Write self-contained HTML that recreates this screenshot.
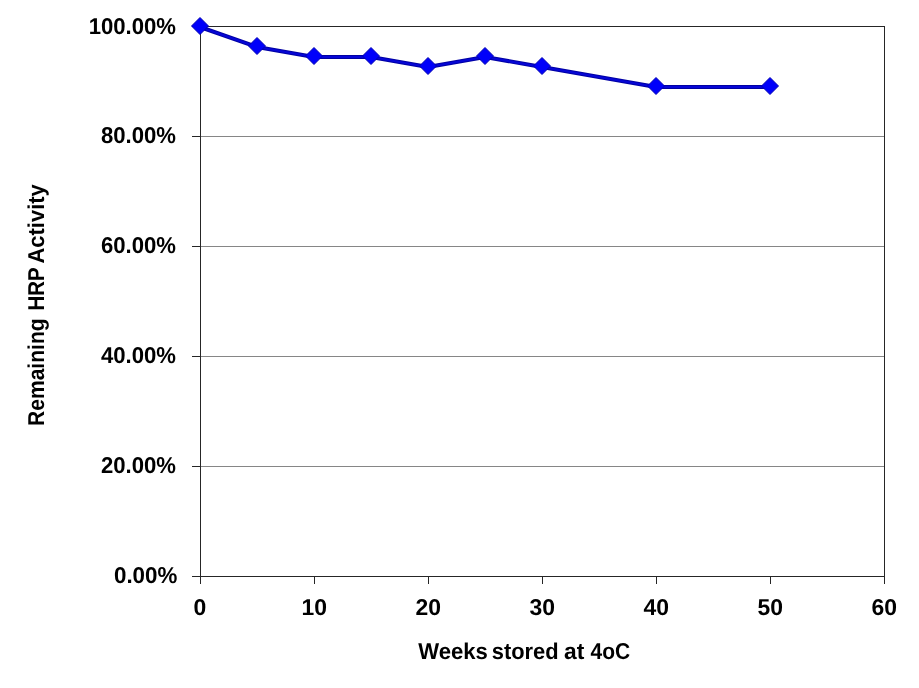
<!DOCTYPE html>
<html lang="en">
<head>
<meta charset="utf-8">
<title>Remaining HRP Activity vs Weeks stored at 4oC</title>
<style>
  html, body { margin: 0; padding: 0; background: #ffffff; }
  body { width: 919px; height: 688px; overflow: hidden; }
  svg { display: block; will-change: transform; }
  text { font-family: "Liberation Sans", sans-serif; font-weight: bold; text-rendering: geometricPrecision; font-size: 22.9px; fill: #000000; }
</style>
</head>
<body>
<svg width="919" height="688" viewBox="0 0 919 688">
  <rect x="0" y="0" width="919" height="688" fill="#ffffff"/>

  <!-- horizontal gridlines -->
  <g stroke="#868686" stroke-width="1" shape-rendering="crispEdges">
    <line x1="201" y1="136.5" x2="884" y2="136.5"/>
    <line x1="201" y1="246.5" x2="884" y2="246.5"/>
    <line x1="201" y1="356.5" x2="884" y2="356.5"/>
    <line x1="201" y1="466.5" x2="884" y2="466.5"/>
  </g>

  <!-- plot border and axes -->
  <g stroke="#262626" stroke-width="1" fill="none" shape-rendering="crispEdges">
    <rect x="200.5" y="26.5" width="684" height="550"/>
    <line x1="192" y1="26.5" x2="200" y2="26.5"/>
    <line x1="192" y1="136.5" x2="200" y2="136.5"/>
    <line x1="192" y1="246.5" x2="200" y2="246.5"/>
    <line x1="192" y1="356.5" x2="200" y2="356.5"/>
    <line x1="192" y1="466.5" x2="200" y2="466.5"/>
    <line x1="192" y1="576.5" x2="200" y2="576.5"/>
    <line x1="200.5" y1="577" x2="200.5" y2="584"/>
    <line x1="314.5" y1="577" x2="314.5" y2="584"/>
    <line x1="428.5" y1="577" x2="428.5" y2="584"/>
    <line x1="542.5" y1="577" x2="542.5" y2="584"/>
    <line x1="656.5" y1="577" x2="656.5" y2="584"/>
    <line x1="770.5" y1="577" x2="770.5" y2="584"/>
    <line x1="884.5" y1="577" x2="884.5" y2="584"/>
  </g>

  <!-- data series line -->
  <polyline fill="none" stroke="#0000a4" stroke-width="4" stroke-linejoin="round" stroke-linecap="round"
    points="200.0,27.0 257.0,47.0 314.0,57.0 371.0,57.0 428.0,67.0 485.0,57.0 542.0,67.0 656.0,87.0 770.0,87.0"/>
  <polyline fill="none" stroke="#0606d6" stroke-width="2.2" stroke-linejoin="round" stroke-linecap="round"
    points="200.0,27.0 257.0,47.0 314.0,57.0 371.0,57.0 428.0,67.0 485.0,57.0 542.0,67.0 656.0,87.0 770.0,87.0"/>

  <!-- diamond markers -->
  <g fill="#0000fa" stroke="#0000b4" stroke-width="1" stroke-linejoin="miter">
    <path d="M200 17.5 L208.5 26 L200 34.5 L191.5 26 Z"/>
    <path d="M257 37.5 L265.5 46 L257 54.5 L248.5 46 Z"/>
    <path d="M314 47.5 L322.5 56 L314 64.5 L305.5 56 Z"/>
    <path d="M371 47.5 L379.5 56 L371 64.5 L362.5 56 Z"/>
    <path d="M428 57.5 L436.5 66 L428 74.5 L419.5 66 Z"/>
    <path d="M485 47.5 L493.5 56 L485 64.5 L476.5 56 Z"/>
    <path d="M542 57.5 L550.5 66 L542 74.5 L533.5 66 Z"/>
    <path d="M656 77.5 L664.5 86 L656 94.5 L647.5 86 Z"/>
    <path d="M770 77.5 L778.5 86 L770 94.5 L761.5 86 Z"/>
  </g>

  <!-- y axis tick labels -->
  <g text-anchor="end">
    <text x="176.0" y="33.6" textLength="87.3" lengthAdjust="spacingAndGlyphs">100.00%</text>
    <text x="176.0" y="142.6" textLength="75.0" lengthAdjust="spacingAndGlyphs">80.00%</text>
    <text x="176.0" y="252.6" textLength="75.0" lengthAdjust="spacingAndGlyphs">60.00%</text>
    <text x="176.0" y="362.6" textLength="75.0" lengthAdjust="spacingAndGlyphs">40.00%</text>
    <text x="176.0" y="472.6" textLength="75.0" lengthAdjust="spacingAndGlyphs">20.00%</text>
    <text x="177.3" y="582.6" textLength="63.3" lengthAdjust="spacingAndGlyphs">0.00%</text>
  </g>

  <!-- x axis tick labels -->
  <g text-anchor="middle">
    <text x="199.8" y="615">0</text>
    <text x="314.3" y="615">10</text>
    <text x="428.3" y="615">20</text>
    <text x="542.3" y="615">30</text>
    <text x="656.3" y="615">40</text>
    <text x="770.3" y="615">50</text>
    <text x="884.3" y="615">60</text>
  </g>

  <!-- axis titles -->
  <text y="658.6"><tspan x="418.3" textLength="69.6" lengthAdjust="spacingAndGlyphs">Weeks</tspan> <tspan x="491.8" textLength="66.8" lengthAdjust="spacingAndGlyphs">stored</tspan> <tspan x="564.0" textLength="20.3" lengthAdjust="spacingAndGlyphs">at</tspan> <tspan x="590.6" textLength="39.6" lengthAdjust="spacingAndGlyphs">4oC</tspan></text>
  <g transform="translate(44.2 424.4) rotate(-90)">
    <text y="0"><tspan x="-1.6" textLength="107.6" lengthAdjust="spacingAndGlyphs">Remaining</tspan> <tspan x="113.9" textLength="42.8" lengthAdjust="spacingAndGlyphs">HRP</tspan> <tspan x="160.9" textLength="79.3" lengthAdjust="spacingAndGlyphs">Activity</tspan></text>
  </g>
</svg>
</body>
</html>
